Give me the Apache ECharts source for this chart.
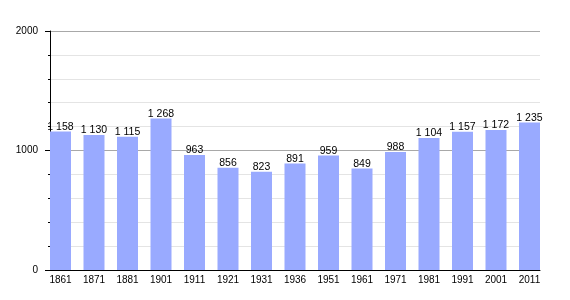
<!DOCTYPE html>
<html>
<head>
<meta charset="utf-8">
<script src="https://cdn.jsdelivr.net/npm/echarts@6/dist/echarts.min.js"></script>
<style>html,body{margin:0;padding:0;background:#fff}#c{width:570px;height:300px}</style>
</head>
<body>
<div id="c"></div>
<script>
var years = ['1861','1871','1881','1901','1911','1921','1931','1936','1951','1961','1971','1981','1991','2001','2011'];
var population = [1158,1130,1115,1268,963,856,823,891,959,849,988,1104,1157,1172,1235];
var yTicks = [0,1000,2000];

var FONT = 'Liberation Sans, Arial, sans-serif';
function fmt(v){
  var s = String(v);
  return s.length > 3 ? s.slice(0, s.length-3) + '\u00a0' + s.slice(-3) : s;
}
var chart = echarts.init(document.getElementById('c'), null, {renderer:'canvas'});
chart.setOption({
  animation:false,
  backgroundColor:'#fff',
  grid:[
    {left:50, right:30, top:31, bottom:30},
    {left:43.75, right:23.75, top:31, bottom:30}
  ],
  xAxis:[
    {gridIndex:0, type:'category', data:years, boundaryGap:true,
     axisLine:{show:true, lineStyle:{color:'#000', width:1}},
     axisTick:{show:false}, axisLabel:{show:false}, splitLine:{show:false}},
    {gridIndex:1, type:'category', data:years, boundaryGap:true,
     axisLine:{show:false}, axisTick:{show:false},
     axisLabel:{show:true, color:'#000', fontSize:10, fontFamily:FONT, margin:5, interval:0}}
  ],
  yAxis:[
    {gridIndex:0, type:'value', min:yTicks[0], max:yTicks[yTicks.length-1], interval:1000,
     axisLine:{show:true, lineStyle:{color:'#000', width:1}},
     axisTick:{show:true, length:5, lineStyle:{color:'#000'}},
     minorTick:{show:true, splitNumber:5, length:2, lineStyle:{color:'#000'}},
     axisLabel:{color:'#000', fontSize:10, fontFamily:FONT, margin:12, formatter:function(v){return String(v);}},
     splitLine:{show:true, lineStyle:{color:'#a8a8a8', width:1}},
     minorSplitLine:{show:true, lineStyle:{color:'#e4e4e4', width:1}}},
    {gridIndex:1, type:'value', min:yTicks[0], max:yTicks[yTicks.length-1],
     show:false, splitLine:{show:false}}
  ],
  series:[{
    type:'bar', xAxisIndex:1, yAxisIndex:1,
    data:population, barWidth:21,
    itemStyle:{color:'#99aaff'},
    label:{show:true, position:'top', distance:-1, color:'#000', fontSize:10.5, fontFamily:FONT,
      formatter:function(p){return fmt(p.value);}}
  }]
});
</script>
</body>
</html>
